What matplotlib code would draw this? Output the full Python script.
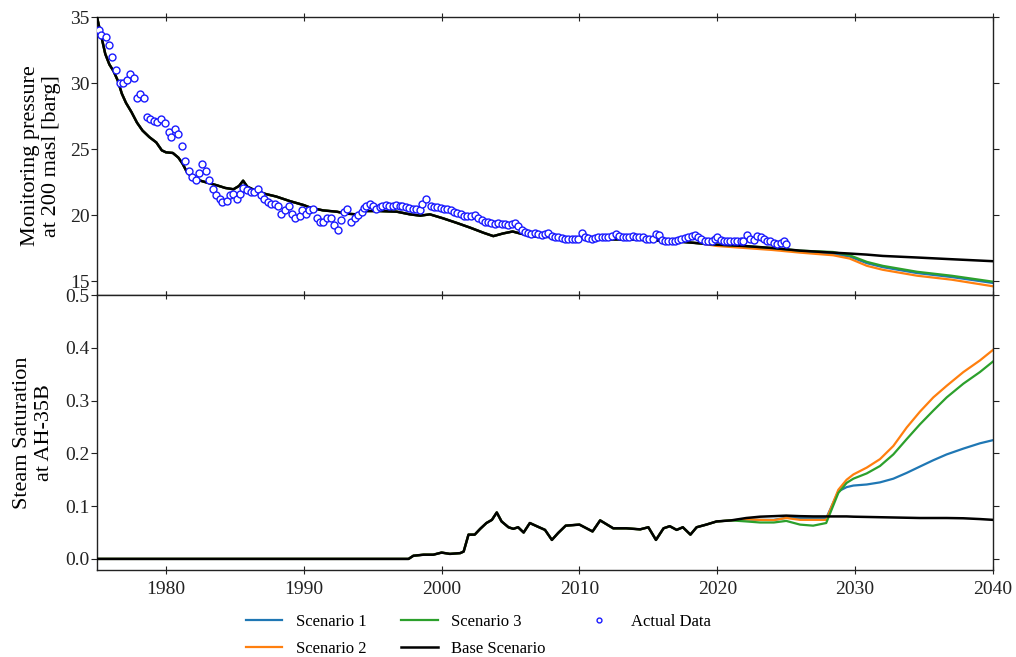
import matplotlib
matplotlib.use("Agg")
import matplotlib.pyplot as plt
from matplotlib.lines import Line2D

plt.rcParams['font.family'] = ['Liberation Serif', 'DejaVu Serif']
plt.rcParams['font.size'] = 14

# ---------------- Actual data (monitoring pressure, barg) ----------------
obs_year = [
    1975.15, 1975.3, 1975.65, 1975.9, 1976.1, 1976.4, 1976.7, 1976.9, 1977.15, 1977.4,
    1977.65, 1977.9, 1978.15, 1978.4, 1978.6, 1978.85, 1979.1, 1979.35, 1979.65, 1979.9,
    1980.2, 1980.4, 1980.65, 1980.9, 1981.15, 1981.4, 1981.65, 1981.9, 1982.15, 1982.4,
    1982.65, 1982.9, 1983.15, 1983.4, 1983.65, 1983.9, 1984.1, 1984.4, 1984.65, 1984.9,
    1985.15, 1985.4, 1985.6, 1985.9, 1986.15, 1986.4, 1986.7, 1986.9, 1987.15, 1987.4,
    1987.65, 1987.9, 1988.1, 1988.35, 1988.65, 1988.9, 1989.15, 1989.4, 1989.7, 1989.9,
    1990.15, 1990.4, 1990.7, 1990.95, 1991.2, 1991.4, 1991.65, 1991.95, 1992.2, 1992.45,
    1992.7, 1992.9, 1993.15, 1993.45, 1993.7, 1993.95, 1994.2, 1994.35, 1994.55, 1994.8,
    1995.0, 1995.25, 1995.5, 1995.7, 1995.95, 1996.2, 1996.45, 1996.7, 1996.95, 1997.15,
    1997.4, 1997.65, 1997.9, 1998.15, 1998.4, 1998.6, 1998.9, 1999.2, 1999.45, 1999.7,
    1999.95, 2000.2, 2000.4, 2000.65, 2000.9, 2001.15, 2001.4, 2001.6, 2001.85, 2002.1,
    2002.4, 2002.65, 2002.9, 2003.15, 2003.4, 2003.6, 2003.85, 2004.1, 2004.35, 2004.6,
    2004.85, 2005.1, 2005.3, 2005.55, 2005.8, 2006.05, 2006.3, 2006.5, 2006.75, 2007.0,
    2007.25, 2007.5, 2007.75, 2008.0, 2008.2, 2008.45, 2008.7, 2008.95, 2009.2, 2009.45,
    2009.7, 2009.9, 2010.15, 2010.4, 2010.65, 2010.9, 2011.15, 2011.35, 2011.6, 2011.85,
    2012.1, 2012.35, 2012.65, 2012.9, 2013.15, 2013.4, 2013.6, 2013.85, 2014.1, 2014.35,
    2014.6, 2014.8, 2015.05, 2015.3, 2015.55, 2015.8, 2016.0, 2016.2, 2016.45, 2016.7,
    2016.95, 2017.15, 2017.4, 2017.65, 2017.9, 2018.15, 2018.4, 2018.6, 2018.85, 2019.1,
    2019.35, 2019.6, 2019.8, 2020.0, 2020.25, 2020.5, 2020.7, 2020.95, 2021.2, 2021.45,
    2021.7, 2021.9, 2022.15, 2022.4, 2022.65, 2022.9, 2023.15, 2023.4, 2023.6, 2023.85,
    2024.1, 2024.35, 2024.6, 2024.85, 2025.0,
]
obs_pressure = [
    34.0, 33.6, 33.5, 32.9, 32.0, 31.0, 30.0, 30.0, 30.2, 30.7,
    30.4, 28.85, 29.2, 28.9, 27.45, 27.3, 27.1, 27.05, 27.25, 27.0,
    26.3, 25.9, 26.55, 26.1, 25.2, 24.1, 23.3, 22.9, 22.65, 23.15,
    23.85, 23.35, 22.65, 21.95, 21.5, 21.25, 20.95, 21.05, 21.5, 21.6,
    21.25, 21.6, 22.05, 21.9, 21.75, 21.75, 21.95, 21.55, 21.2, 20.95,
    20.85, 20.8, 20.7, 20.1, 20.35, 20.65, 20.1, 19.75, 19.9, 20.35,
    20.1, 20.4, 20.45, 19.75, 19.5, 19.45, 19.75, 19.75, 19.25, 18.9,
    19.65, 20.25, 20.45, 19.5, 19.75, 20.0, 20.2, 20.5, 20.7, 20.85,
    20.65, 20.45, 20.6, 20.7, 20.75, 20.65, 20.7, 20.75, 20.65, 20.65,
    20.6, 20.5, 20.45, 20.45, 20.35, 20.85, 21.2, 20.7, 20.6, 20.6,
    20.5, 20.45, 20.45, 20.35, 20.2, 20.15, 20.1, 19.95, 19.9, 19.9,
    20.0, 19.8, 19.65, 19.5, 19.5, 19.4, 19.35, 19.4, 19.35, 19.35,
    19.25, 19.35, 19.4, 19.15, 18.85, 18.7, 18.6, 18.55, 18.6, 18.55,
    18.5, 18.55, 18.65, 18.4, 18.3, 18.3, 18.25, 18.2, 18.15, 18.15,
    18.2, 18.15, 18.6, 18.3, 18.25, 18.2, 18.25, 18.3, 18.35, 18.35,
    18.35, 18.4, 18.55, 18.4, 18.35, 18.3, 18.35, 18.4, 18.35, 18.3,
    18.3, 18.15, 18.15, 18.15, 18.55, 18.45, 18.1, 18.0, 18.0, 18.0,
    18.0, 18.1, 18.15, 18.25, 18.3, 18.4, 18.5, 18.3, 18.15, 18.0,
    18.0, 18.05, 18.15, 18.35, 18.1, 18.0, 18.0, 18.0, 18.0, 18.0,
    18.0, 18.0, 18.5, 18.15, 18.1, 18.4, 18.35, 18.15, 18.05, 18.0,
    17.9, 17.8, 17.9, 18.0, 17.8,
]

# ---------------- Model: pressure, history (common to all runs) ----------------
hist_year = [
    1975.0, 1975.3, 1975.6, 1975.9, 1976.2, 1976.5, 1976.8, 1977.1, 1977.5, 1977.9,
    1978.3, 1978.8, 1979.3, 1979.7, 1980.0, 1980.5, 1980.9, 1981.2, 1981.5, 1981.9,
    1982.5, 1983.0, 1983.7, 1984.3, 1984.9, 1985.3, 1985.6, 1985.9, 1986.5, 1987.2,
    1988.0, 1989.0, 1990.0, 1990.5, 1991.4, 1992.4, 1993.1, 1993.85, 1994.55, 1995.5,
    1996.75, 1997.7, 1998.45, 1999.15, 2000.1, 2001.1, 2002.05, 2003.05, 2003.75, 2004.45,
    2005.15, 2005.7, 2006.5, 2007.6, 2008.8, 2010.0, 2011.25, 2012.45, 2013.65, 2014.85,
    2016.1, 2017.05, 2018.75,
]
hist_pressure = [
    35.0, 33.6, 32.2, 31.4, 30.9, 30.2, 29.2, 28.5, 27.8, 27.0,
    26.4, 25.9, 25.5, 24.9, 24.75, 24.7, 24.35, 23.9, 23.3, 22.85,
    22.6, 22.45, 22.25, 22.05, 21.95, 22.2, 22.6, 22.15, 21.85, 21.6,
    21.4, 21.05, 20.75, 20.55, 20.35, 20.25, 20.1, 20.05, 20.3, 20.3,
    20.25, 20.05, 19.95, 20.05, 19.75, 19.4, 19.05, 18.65, 18.4, 18.6,
    18.75, 18.6, 18.4, 18.35, 18.25, 18.3, 18.25, 18.15, 18.15, 18.1,
    18.05, 18.0, 17.85,
]

# ---------------- Model: pressure, forecast ----------------
fut_year = [2020.0, 2022.0, 2024.0, 2026.0, 2028.4, 2029.6, 2030.85, 2032.0, 2034.5, 2037.0, 2040.0]
base_pressure = [17.75, 17.65, 17.5, 17.3, 17.15, 17.08, 17.0, 16.9, 16.78, 16.65, 16.5]
s1_pressure = [17.7, 17.6, 17.45, 17.25, 17.05, 16.85, 16.35, 16.05, 15.6, 15.3, 14.85]
s2_pressure = [17.65, 17.5, 17.35, 17.15, 16.95, 16.7, 16.15, 15.85, 15.4, 15.1, 14.6]
s3_pressure = [17.75, 17.65, 17.5, 17.3, 17.2, 16.95, 16.45, 16.15, 15.7, 15.4, 14.95]

# ---------------- Model: steam saturation at AH-35B ----------------
sat_hist_year = [
    1975.0, 1997.6, 1997.95, 1998.7, 1999.4, 2000.0, 2000.6, 2001.35, 2001.6, 2001.95,
    2002.4, 2002.8, 2003.25, 2003.65, 2004.0, 2004.35, 2004.85, 2005.2, 2005.55, 2005.95,
    2006.4, 2006.9, 2007.5, 2008.0, 2008.45, 2009.0, 2010.0, 2010.95, 2011.5, 2012.45,
    2013.4, 2014.4, 2015.0, 2015.55, 2016.1, 2016.55, 2017.05, 2017.5, 2018.05, 2018.5,
    2019.2, 2019.95, 2021.0,
]
sat_hist = [
    0.0, 0.0, 0.006, 0.008, 0.008, 0.012, 0.0095, 0.011, 0.014, 0.046,
    0.046, 0.057, 0.068, 0.074, 0.088, 0.071, 0.060, 0.057, 0.060, 0.050,
    0.068, 0.062, 0.055, 0.036, 0.049, 0.063, 0.065, 0.052, 0.073, 0.058,
    0.058, 0.056, 0.060, 0.036, 0.058, 0.062, 0.055, 0.060, 0.046, 0.060,
    0.065, 0.071, 0.073,
]
sat_fut_year = [2022.1, 2023.1, 2024.1, 2025.0, 2026.0, 2026.95, 2027.9,
                2028.78, 2029.38, 2029.87, 2030.84, 2031.8, 2032.77, 2033.74, 2034.7,
                2035.67, 2036.64, 2037.85, 2039.05, 2040.0]
base_sat = [0.0775, 0.080, 0.081, 0.082, 0.081, 0.0805, 0.0805,
            0.0805, 0.0805, 0.080, 0.0795, 0.079, 0.0785, 0.078, 0.0775,
            0.0775, 0.0775, 0.077, 0.0755, 0.074]
s1_sat = [0.075, 0.074, 0.074, 0.078, 0.077, 0.077, 0.077,
          0.128, 0.136, 0.139, 0.141, 0.145, 0.152, 0.163, 0.175,
          0.187, 0.198, 0.209, 0.219, 0.225]
s2_sat = [0.075, 0.074, 0.0735, 0.0775, 0.074, 0.074, 0.074,
          0.131, 0.150, 0.160, 0.173, 0.189, 0.214, 0.249, 0.279,
          0.306, 0.328, 0.354, 0.376, 0.396]
s3_sat = [0.071, 0.069, 0.069, 0.072, 0.065, 0.063, 0.068,
          0.125, 0.144, 0.152, 0.162, 0.176, 0.198, 0.227, 0.255,
          0.281, 0.306, 0.332, 0.354, 0.374]

years_ticks = [1980, 1990, 2000, 2010, 2020, 2030, 2040]

C1, C2, C3 = '#1f77b4', '#ff7f0e', '#2ca02c'

fig = plt.figure(figsize=(10.16, 6.57), dpi=100)
W, H = 1016, 657
ax1 = fig.add_axes([97 / W, 1 - 295 / H, 896 / W, 278 / H])
ax2 = fig.add_axes([97 / W, 1 - 570 / H, 896 / W, 275 / H], sharex=ax1)

# top panel
ax1.plot(hist_year + fut_year, hist_pressure + s1_pressure, color=C1, lw=1.6, zorder=2)
ax1.plot(hist_year + fut_year, hist_pressure + s2_pressure, color=C2, lw=1.6, zorder=2)
ax1.plot(hist_year + fut_year, hist_pressure + s3_pressure, color=C3, lw=1.6, zorder=2)
ax1.plot(hist_year + fut_year, hist_pressure + base_pressure, color='black', lw=1.8, zorder=3)
ax1.plot(obs_year, obs_pressure, linestyle='none', marker='o', markersize=5,
         markerfacecolor='white', markeredgecolor='#1a1aff', markeredgewidth=1.0, zorder=4)
ax1.set_ylim(13.94, 35)
ax1.set_yticks([15, 20, 25, 30, 35])
ax1.set_ylabel('Monitoring pressure\nat 200 masl [barg]', fontsize=16, labelpad=6)

# bottom panel
ax2.plot(sat_hist_year + sat_fut_year, sat_hist + s1_sat, color=C1, lw=1.6, zorder=2)
ax2.plot(sat_hist_year + sat_fut_year, sat_hist + s2_sat, color=C2, lw=1.6, zorder=2)
ax2.plot(sat_hist_year + sat_fut_year, sat_hist + s3_sat, color=C3, lw=1.6, zorder=2)
ax2.plot(sat_hist_year + sat_fut_year, sat_hist + base_sat, color='black', lw=1.8, zorder=3)
ax2.set_ylim(-0.021, 0.5)
ax2.set_yticks([0.0, 0.1, 0.2, 0.3, 0.4, 0.5])
ax2.set_yticklabels(['0.0', '0.1', '0.2', '0.3', '0.4', '0.5'])
ax2.set_ylabel('Steam Saturation\nat AH-35B', fontsize=16, labelpad=8)

ax2.set_xlim(1975, 2040)
ax2.set_xticks(years_ticks)

for ax in (ax1, ax2):
    ax.tick_params(axis='x', direction='inout', length=6, top=True, bottom=True,
                   colors='#222222', pad=5)
    ax.tick_params(axis='y', direction='out', length=4, left=True, right=True,
                   colors='#222222', pad=1.5)
    for s in ax.spines.values():
        s.set_color('#222222')
        s.set_linewidth(1.0)
ax1.tick_params(axis='x', labelbottom=False)

handles = [
    Line2D([], [], color=C1, lw=1.6, label='Scenario 1'),
    Line2D([], [], color=C2, lw=1.6, label='Scenario 2'),
    Line2D([], [], color=C3, lw=1.6, label='Scenario 3'),
    Line2D([], [], color='black', lw=1.8, label='Base Scenario'),
    Line2D([], [], linestyle='none', marker='o', markersize=3.5, markerfacecolor='white',
           markeredgecolor='#1a1aff', markeredgewidth=1.0, label='Actual Data'),
]
fig.legend(handles=handles, loc='upper center', bbox_to_anchor=(478 / W, 1 - 602 / H),
           ncol=3, frameon=False, fontsize=12, columnspacing=2.1, handletextpad=0.8,
           handlelength=2.2, labelspacing=0.7, borderpad=0.2)

fig.savefig('out.png', dpi=100)
